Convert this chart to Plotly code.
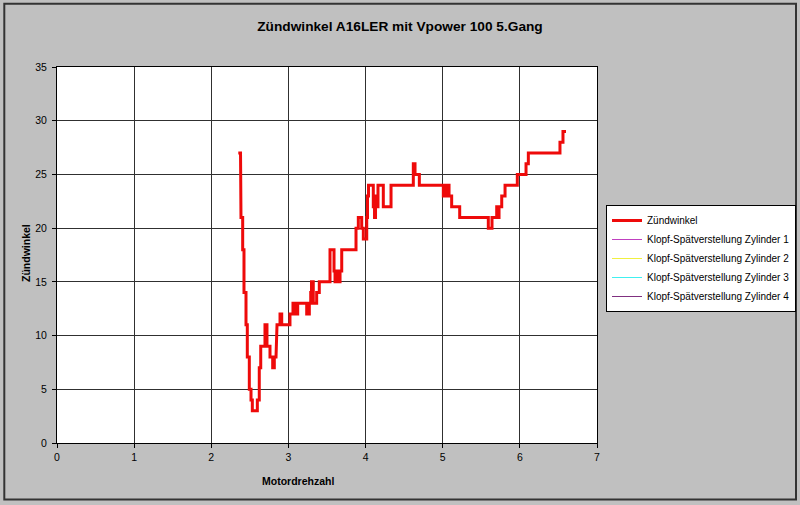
import plotly.graph_objects as go

# Motordrehzahl (x 1000 rpm) and Zündwinkel (deg)
rpm = [2.350, 2.379, 2.385, 2.407, 2.407, 2.424, 2.424, 2.450, 2.450, 2.467,
       2.467, 2.493, 2.493, 2.515, 2.515, 2.532, 2.532, 2.597, 2.597, 2.622,
       2.622, 2.641, 2.641, 2.696, 2.696, 2.722, 2.722, 2.761, 2.761, 2.796,
       2.796, 2.817, 2.817, 2.839, 2.852, 2.891, 2.891, 2.913, 2.913, 3.020,
       3.020, 3.059, 3.059, 3.079, 3.079, 3.092, 3.092, 3.107, 3.107, 3.120,
       3.120, 3.237, 3.237, 3.271, 3.271, 3.289, 3.289, 3.299, 3.299, 3.322,
       3.322, 3.366, 3.366, 3.400, 3.400, 3.539, 3.539, 3.591, 3.591, 3.604,
       3.604, 3.630, 3.630, 3.643, 3.643, 3.669, 3.669, 3.691, 3.691, 3.876,
       3.876, 3.906, 3.906, 3.950, 3.950, 3.971, 3.971, 4.015, 4.015, 4.025,
       4.025, 4.038, 4.038, 4.100, 4.100, 4.116, 4.116, 4.129, 4.129, 4.148,
       4.148, 4.161, 4.161, 4.230, 4.230, 4.330, 4.330, 4.619, 4.619, 4.641,
       4.641, 4.697, 4.697, 5.008, 5.008, 5.030, 5.030, 5.049, 5.049, 5.069,
       5.069, 5.082, 5.082, 5.116, 5.116, 5.220, 5.220, 5.591, 5.591, 5.639,
       5.639, 5.700, 5.700, 5.713, 5.713, 5.730, 5.730, 5.765, 5.765, 5.808,
       5.808, 5.967, 5.967, 6.080, 6.080, 6.110, 6.110, 6.520, 6.520, 6.559,
       6.559, 6.598]
zuendwinkel = [27, 27, 21, 21, 18, 18, 14, 14, 11, 11,
               8, 8, 5, 5, 4, 4, 3, 3, 4, 4,
               7, 7, 9, 9, 11, 11, 9, 9, 8, 8,
               7, 7, 8, 8, 11, 11, 12, 12, 11, 11,
               12, 12, 13, 13, 12, 12, 13, 13, 12, 12,
               13, 13, 12, 12, 13, 13, 14, 14, 15, 15,
               13, 13, 14, 14, 15, 15, 18, 18, 16, 16,
               15, 15, 16, 16, 15, 15, 16, 16, 18, 18,
               20, 20, 21, 21, 20, 20, 19, 19, 21, 21,
               23, 23, 24, 24, 22, 22, 21, 21, 23, 23,
               22, 22, 24, 24, 22, 22, 24, 24, 26, 26,
               25, 25, 24, 24, 23, 23, 24, 24, 23, 23,
               24, 24, 23, 23, 22, 22, 21, 21, 20, 20,
               21, 21, 22, 22, 21, 21, 22, 22, 23, 23,
               24, 24, 25, 25, 26, 26, 27, 27, 28, 28,
               29, 29]

series_names = ["Zündwinkel",
                "Klopf-Spätverstellung Zylinder 1",
                "Klopf-Spätverstellung Zylinder 2",
                "Klopf-Spätverstellung Zylinder 3",
                "Klopf-Spätverstellung Zylinder 4"]
series_colors = ["#EE0A0A", "#C040C0", "#F0F040", "#40F0F0", "#803080"]
x_ticks = [0, 1, 2, 3, 4, 5, 6, 7]
y_ticks = [0, 5, 10, 15, 20, 25, 30, 35]

FONT = "Arial, Liberation Sans, sans-serif"

fig = go.Figure()
fig.add_trace(go.Scatter(x=rpm, y=zuendwinkel, mode="lines", name=series_names[0],
                         line=dict(color=series_colors[0], width=3)))
for name, col in zip(series_names[1:], series_colors[1:]):
    fig.add_trace(go.Scatter(x=[None], y=[None], mode="lines", name=name,
                             line=dict(color=col, width=1)))

axis_common = dict(showgrid=True, gridcolor="#303030", gridwidth=1,
                   showline=True, linecolor="#000000", linewidth=1, mirror=True,
                   ticks="outside", ticklen=4, tickcolor="#000000",
                   tickfont=dict(family=FONT, size=10.5, color="#000000"),
                   zeroline=False, fixedrange=True)

fig.update_layout(
    width=800, height=505,
    margin=dict(l=57, r=203, t=67, b=62, autoexpand=False),
    paper_bgcolor="#C0C0C0", plot_bgcolor="#FFFFFF",
    title=dict(text="<b>Zündwinkel A16LER mit Vpower 100 5.Gang</b>",
               x=0.5, xref="container", xanchor="center",
               y=1 - 26 / 505, yref="container", yanchor="middle",
               font=dict(family=FONT, size=13.7, color="#000000")),
    xaxis=dict(range=[0, 7], tickvals=x_ticks, **axis_common),
    yaxis=dict(range=[0, 35], tickvals=y_ticks, ticklabelstandoff=3, **axis_common),
    showlegend=True,
    legend=dict(x=(606 - 57) / 540, y=(443 - 205) / 376, xanchor="left", yanchor="top",
                bgcolor="#FFFFFF", bordercolor="#000000", borderwidth=1,
                font=dict(family=FONT, size=10, color="#000000"),
                tracegroupgap=0, itemwidth=30),
    annotations=[
        dict(text="<b>Motordrehzahl</b>", xref="paper", yref="paper",
             x=(298 - 57) / 540, y=(443 - 481) / 376, showarrow=False,
             xanchor="center", yanchor="middle",
             font=dict(family=FONT, size=10.5, color="#000000")),
        dict(text="<b>Zündwinkel</b>", xref="paper", yref="paper",
             x=(26 - 57) / 540, y=(443 - 253) / 376, showarrow=False,
             textangle=-90, xanchor="center", yanchor="middle",
             font=dict(family=FONT, size=10.5, color="#000000")),
    ],
    shapes=[dict(type="rect", xref="paper", yref="paper",
                 x0=(4.3 - 57) / 540, x1=(796 - 57) / 540,
                 y0=(443 - 499.5) / 376, y1=(443 - 3.7) / 376,
                 line=dict(color="#333333", width=2), fillcolor="rgba(0,0,0,0)",
                 layer="below")],
)

fig.write_html("out.html", config={"displayModeBar": False},
               post_script="document.body.style.margin='0';document.body.style.overflow='hidden';")
